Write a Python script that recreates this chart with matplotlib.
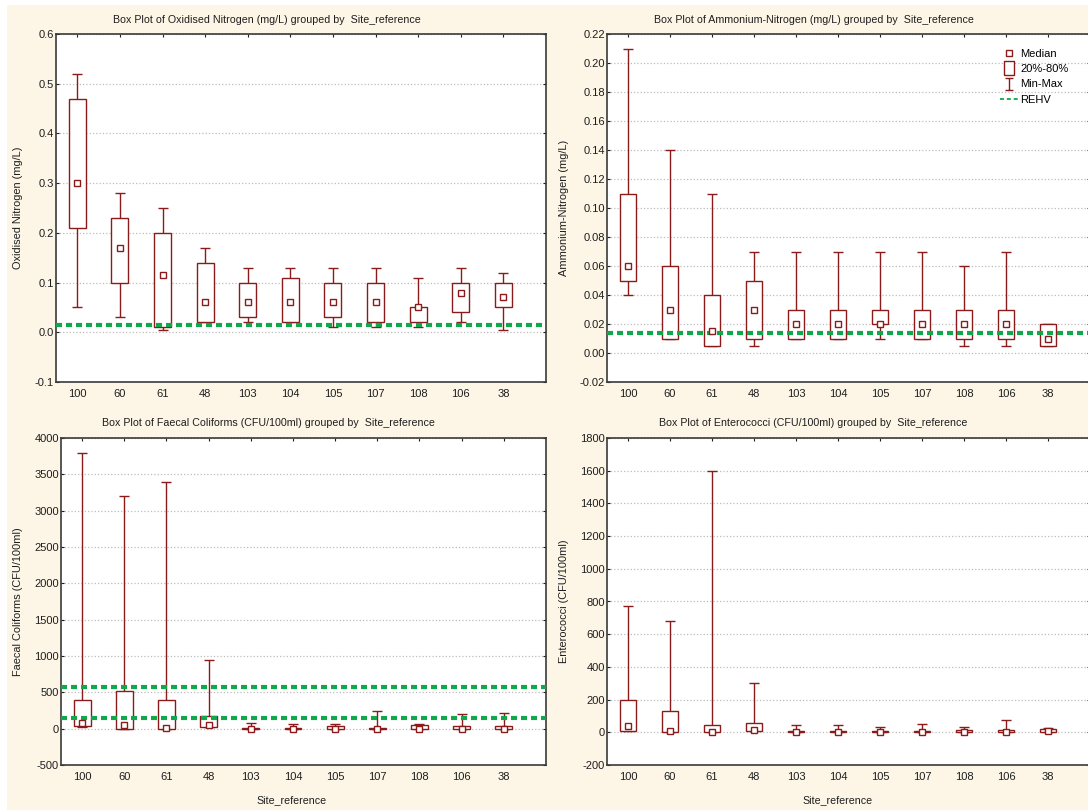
import matplotlib.pyplot as plt
from matplotlib.lines import Line2D
from matplotlib.patches import Rectangle
from matplotlib.path import Path
from matplotlib.ticker import MultipleLocator, FormatStrFormatter
import numpy as np

plt.rcParams['font.family'] = ['Liberation Sans', 'DejaVu Sans']
plt.rcParams['axes.unicode_minus'] = False

sites = ['100', '60', '61', '48', '103', '104', '105', '107', '108', '106', '38']

# Oxidised Nitrogen (mg/L)
on_min = [0.05, 0.03, 0.005, 0.02, 0.02, 0.02, 0.01, 0.01, 0.01, 0.02, 0.005]
on_q20 = [0.21, 0.10, 0.01, 0.02, 0.03, 0.02, 0.03, 0.02, 0.02, 0.04, 0.05]
on_med = [0.30, 0.17, 0.115, 0.06, 0.06, 0.06, 0.06, 0.06, 0.05, 0.08, 0.07]
on_q80 = [0.47, 0.23, 0.20, 0.14, 0.10, 0.11, 0.10, 0.10, 0.05, 0.10, 0.10]
on_max = [0.52, 0.28, 0.25, 0.17, 0.13, 0.13, 0.13, 0.13, 0.11, 0.13, 0.12]
on_rehv = [0.014]

# Ammonium-Nitrogen (mg/L)
am_min = [0.04, 0.01, 0.005, 0.005, 0.01, 0.01, 0.01, 0.01, 0.005, 0.005, 0.005]
am_q20 = [0.05, 0.01, 0.005, 0.01, 0.01, 0.01, 0.02, 0.01, 0.01, 0.01, 0.005]
am_med = [0.06, 0.03, 0.015, 0.03, 0.02, 0.02, 0.02, 0.02, 0.02, 0.02, 0.01]
am_q80 = [0.11, 0.06, 0.04, 0.05, 0.03, 0.03, 0.03, 0.03, 0.03, 0.03, 0.02]
am_max = [0.21, 0.14, 0.11, 0.07, 0.07, 0.07, 0.07, 0.07, 0.06, 0.07, 0.02]
am_rehv = [0.014]

# Faecal Coliforms (CFU/100ml)
fc_min = [20, 0, 0, 20, 0, 0, 0, 0, 0, 0, 0]
fc_q20 = [35, 0, 0, 20, 0, 0, 0, 0, 0, 0, 0]
fc_med = [80, 50, 15, 50, 0, 0, 0, 0, 0, 0, 0]
fc_q80 = [400, 525, 400, 170, 10, 10, 40, 10, 50, 30, 40]
fc_max = [3800, 3200, 3400, 950, 75, 70, 60, 250, 60, 200, 220]
fc_rehv = [580, 140]

# Enterococci (CFU/100ml)
en_min = [5, 0, 0, 5, 0, 0, 0, 0, 0, 0, 0]
en_q20 = [10, 0, 0, 10, 0, 0, 0, 0, 0, 0, 0]
en_med = [40, 10, 0, 15, 0, 0, 0, 0, 0, 0, 5]
en_q80 = [200, 130, 45, 55, 10, 10, 5, 5, 15, 15, 20]
en_max = [770, 680, 1600, 300, 45, 45, 30, 50, 30, 75, 25]

BOX_COLOR = '#8B1A1A'
REHV_COLOR = '#10A84A'
BG = '#FDF6E7'
SPINE = '#3a3a3a'
TXT = '#1e1e1e'
FS_TICK = 8
FS_TEXT = 7.7

W, H = 1088, 810
fig = plt.figure(figsize=(W / 100, H / 100), dpi=100, facecolor='white')
fig.patches.append(Rectangle((7 / W, 0), 1, (H - 5) / H, transform=fig.transFigure,
                             facecolor=BG, edgecolor='none', zorder=-10))


def add_panel(left, top, right, bottom):
    # pixel box -> figure fraction
    return fig.add_axes([left / W, 1 - bottom / H, (right - left) / W, (bottom - top) / H])


def box_plot(ax, mins, q20, med, q80, maxs, rehv, ylim, step, fmt, ylabel, label_x):
    x = np.arange(len(sites))
    mins, q20, med, q80, maxs = map(np.array, (mins, q20, med, q80, maxs))
    ax.errorbar(x, med, yerr=[med - mins, maxs - med], fmt='none', ecolor=BOX_COLOR,
                elinewidth=1, capsize=3.3, capthick=1, zorder=2)
    ax.bar(x, q80 - q20, bottom=q20, width=0.4, color='white', edgecolor=BOX_COLOR,
           linewidth=1, zorder=3)
    for v in rehv:
        ax.axhline(v, color=REHV_COLOR, lw=3, dashes=(1.45, 0.95), zorder=4)
    ax.plot(x, med, 's', ms=4.5, mfc='white', mec=BOX_COLOR, mew=1, zorder=5)

    ax.set_xlim(-0.5, 11.0)
    ax.set_ylim(*ylim)
    ax.set_xticks(x)
    ax.set_xticklabels(sites)
    ax.yaxis.set_major_locator(MultipleLocator(step))
    ax.yaxis.set_major_formatter(FormatStrFormatter(fmt))
    ax.yaxis.grid(True, color='#bdbdbd', linestyle=':', linewidth=0.9, zorder=0)
    ax.set_axisbelow(True)
    ax.tick_params(axis='y', left=True, right=True, direction='out',
                   length=2, pad=1.6, labelsize=FS_TICK, colors=TXT)
    ax.tick_params(axis='y', right=True, direction='in')
    ax.tick_params(axis='x', top=True, bottom=False, direction='in', length=2.5,
                   pad=5, labelsize=FS_TICK, colors=TXT)
    for s in ax.spines.values():
        s.set_color(SPINE)
        s.set_linewidth(1.2)
    ax.set_ylabel(ylabel, fontsize=FS_TEXT + 0.2, color=TXT)
    ax.yaxis.set_label_coords(label_x, 0.5)


ax1 = add_panel(56, 34, 546, 382)
box_plot(ax1, on_min, on_q20, on_med, on_q80, on_max, on_rehv, (-0.1, 0.6), 0.1, '%.1f',
         'Oxidised Nitrogen (mg/L)', -0.067)

ax2 = add_panel(607, 34, 1090, 382)
box_plot(ax2, am_min, am_q20, am_med, am_q80, am_max, am_rehv, (-0.02, 0.22), 0.02, '%.2f',
         'Ammonium-Nitrogen (mg/L)', -0.079)

ax3 = add_panel(61, 438, 546, 765)
box_plot(ax3, fc_min, fc_q20, fc_med, fc_q80, fc_max, fc_rehv, (-500, 4000), 500, '%d',
         'Faecal Coliforms (CFU/100ml)', -0.078)

ax4 = add_panel(607, 438, 1090, 765)
box_plot(ax4, en_min, en_q20, en_med, en_q80, en_max, [], (-200, 1800), 200, '%d',
         'Enterococci (CFU/100ml)', -0.079)

# panel titles and shared x label
title_kw = dict(fontsize=FS_TEXT, color=TXT, ha='center', va='center')
fig.text(267 / W, 1 - 20 / H,
         'Box Plot of Oxidised Nitrogen (mg/L) grouped by  Site_reference', **title_kw)
fig.text(814 / W, 1 - 20 / H,
         'Box Plot of Ammonium-Nitrogen (mg/L) grouped by  Site_reference', **title_kw)
fig.text(268 / W, 1 - 423 / H,
         'Box Plot of Faecal Coliforms (CFU/100ml) grouped by  Site_reference', **title_kw)
fig.text(813 / W, 1 - 423 / H,
         'Box Plot of Enterococci (CFU/100ml) grouped by  Site_reference', **title_kw)
fig.text(292 / W, 1 - 800 / H, 'Site_reference', **title_kw)
fig.text(838 / W, 1 - 800 / H, 'Site_reference', **title_kw)

# legend
tall_box = [(-0.36, -0.5), (0.36, -0.5), (0.36, 0.5), (-0.36, 0.5), (-0.36, -0.5)]
ibeam = Path([(-0.33, -0.5), (0.33, -0.5), (0, -0.5), (0, 0.5), (-0.33, 0.5), (0.33, 0.5)],
             [Path.MOVETO, Path.LINETO, Path.MOVETO, Path.LINETO, Path.MOVETO, Path.LINETO])
handles = [
    Line2D([], [], ls='none', marker='s', ms=4.5, mfc='white', mec=BOX_COLOR, mew=1),
    Line2D([], [], ls='none', marker=tall_box, ms=9.5, mfc='white', mec=BOX_COLOR, mew=1),
    Line2D([], [], ls='none', marker=ibeam, ms=9, mfc='none', mec=BOX_COLOR, mew=1),
    Line2D([], [], color=REHV_COLOR, lw=1.3, dashes=(2.2, 1.6)),
]
labels = ['Median', '20%-80%', 'Min-Max', 'REHV']
fig.legend(handles, labels, loc='upper left', bbox_to_anchor=(1000 / W, 1 - 49 / H),
           frameon=False, fontsize=8, handlelength=1.6, handletextpad=0.2,
           labelspacing=0.47, borderpad=0, borderaxespad=0)

fig.savefig('out.png', dpi=100, facecolor=fig.get_facecolor())
